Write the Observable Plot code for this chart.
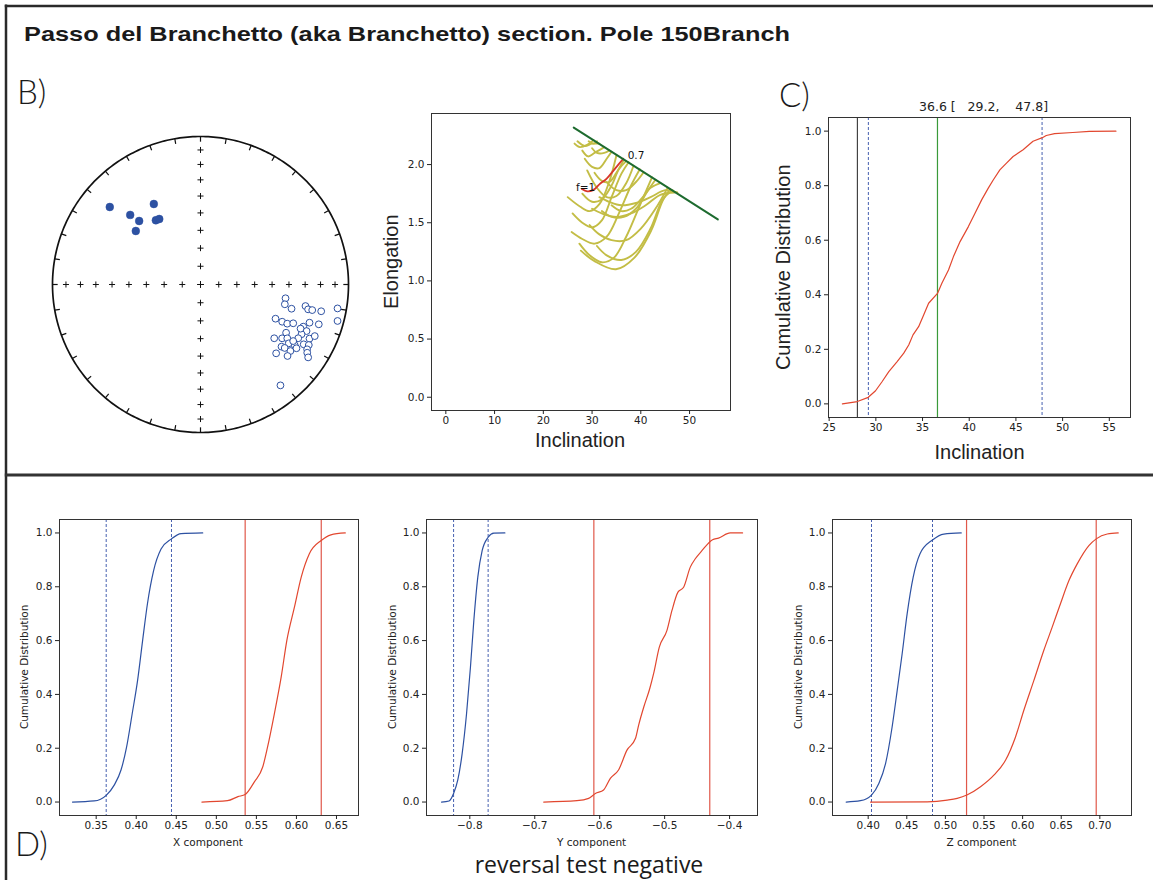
<!DOCTYPE html>
<html><head><meta charset="utf-8">
<script src="https://cdn.jsdelivr.net/npm/d3@7"></script>
<script src="https://cdn.jsdelivr.net/npm/@observablehq/plot@0.6"></script>
<style>
html,body{margin:0;padding:0;background:#fff;}
#fig{position:relative;width:1153px;height:880px;overflow:hidden;background:#fff;}
#fig svg{position:absolute;}
</style></head><body><div id="fig"></div>
<script>
// ---------------- DATA ----------------
const figTitle = "Passo del Branchetto (aka Branchetto) section. Pole 150Branch";
const panelLetters = ["B)", "C)", "D)"];
const caption = "reversal test negative";

// Stereonet: normal (lower hemisphere, filled) directions
const normalDec = [310.5, 329.9, 314.7, 316.0, 325.2, 327.8, 309.6];
const normalInc = [20.5, 37.2, 33.6, 40.1, 46.1, 46.6, 42.7];
// reversed (upper hemisphere, open) directions
const reversedDec = [99.2, 103.2, 104.9, 101.6, 103.0, 102.9, 102.5, 99.9, 104.9, 114.5, 114.5, 114.3, 112.7, 112.3, 109.3, 108.6, 113.7, 116.2, 119.4, 126.1, 123.4, 121.8, 118.8, 116.4, 114.3, 123.7, 122.8, 120.1, 119.2, 127.5, 127.0, 126.5, 123.6, 121.3, 132.3, 129.4, 122.6, 124.1, 141.6, 121.4, 113.8];
const reversedInc = [-41.4, -41.1, -36.5, -28.4, -26.3, -23.6, -17.6, -6.7, -4.7, -43.6, -39.2, -35.9, -32.6, -25.9, -23.0, -16.8, -22.8, -24.9, -34.0, -38.3, -34.3, -31.6, -25.6, -18.9, -16.4, -29.1, -25.2, -20.5, -17.3, -31.6, -29.5, -25.4, -23.2, -16.8, -31.5, -24.9, -15.5, -13.2, -14.1, -27.5, -27.0];
const gridInc = [10, 20, 30, 40, 50, 60, 70, 80, 90];
const gridDec = [0, 90, 180, 270];

// Elongation / inclination (bootstrap E/I curves: [inclination, elongation])
const eiCurves = [
  [[26.4,2.18],[27.5,2.15],[29.0,2.17],[30.3,2.21]],
  [[27.0,2.20],[28.5,2.16],[30.0,2.18],[31.5,2.18]],
  [[28.0,2.12],[29.2,2.07],[30.5,2.10],[32.5,2.15]],
  [[29.3,2.20],[30.3,2.18],[31.0,2.20]],
  [[30.0,2.14],[31.0,2.10],[32.5,2.10],[33.5,2.12]],
  [[28.5,2.05],[30.0,1.98],[31.5,1.97],[33.0,2.05],[34.0,2.11]],
  [[30.5,1.93],[32.0,1.86],[33.5,1.85],[35.0,1.93],[36.5,2.04]],
  [[28.0,1.75],[30.0,1.68],[32.0,1.70],[34.0,1.82],[35.5,1.96],[37.0,2.03]],
  [[29.0,1.95],[31.0,1.80],[33.0,1.72],[35.0,1.73],[37.0,1.84],[38.5,1.99]],
  [[25.0,1.72],[27.5,1.64],[29.5,1.60],[31.5,1.66],[33.5,1.85],[35.0,2.08]],
  [[26.0,1.58],[28.0,1.50],[30.0,1.46],[32.0,1.52],[34.0,1.72],[36.0,1.92],[37.5,2.02]],
  [[25.8,1.42],[28.0,1.36],[30.5,1.32],[33.0,1.38],[35.5,1.58],[38.0,1.82],[39.8,1.96]],
  [[33.0,1.85],[35.0,1.78],[37.0,1.78],[39.0,1.85],[40.5,1.93]],
  [[27.4,1.32],[29.5,1.22],[32.0,1.16],[34.5,1.20],[37.0,1.38],[39.5,1.62],[42.3,1.89]],
  [[27.7,1.26],[30.5,1.17],[34.9,1.10],[38.7,1.20],[42.1,1.43],[44.5,1.69],[46.0,1.79]],
  [[29.5,1.48],[31.5,1.40],[34.0,1.35],[37.0,1.35],[40.0,1.45],[43.0,1.62],[45.5,1.80]],
  [[31.0,1.30],[33.0,1.22],[36.0,1.18],[39.0,1.25],[42.0,1.45],[44.5,1.70],[46.5,1.78]],
  [[30.0,1.62],[32.0,1.58],[35.0,1.55],[38.0,1.58],[41.0,1.65],[44.0,1.74],[47.0,1.76]],
  [[32.0,1.60],[34.0,1.55],[36.5,1.55],[39.0,1.62],[41.5,1.78],[43.0,1.87]],
  [[31.5,1.72],[33.5,1.68],[36.0,1.65],[39.0,1.67],[42.0,1.72],[45.0,1.78],[47.5,1.76]],
  [[34.0,1.65],[36.0,1.60],[38.0,1.62],[40.0,1.70],[42.0,1.80],[44.0,1.84]]
];
const eiDataCurve = [[27.9,1.79],[29.0,1.77],[30.2,1.78],[31.5,1.83],[33.0,1.88],[34.8,1.97],[36.4,2.05]];
const tk03Line = [[26.24,2.318],[55.8,1.529]];
const eiLabels = [{x: 26.7, y: 1.80, t: "f=1"}, {x: 37.3, y: 2.08, t: "0.7"}];

// Panel C: cumulative distribution of corrected inclination
const cIncl = [26.42, 28.02, 29.19, 29.97, 30.68, 31.39, 32.28, 32.99, 33.52, 33.98, 34.58, 35.12, 35.65, 36.6, 37.07, 37.78, 38.31, 39.02, 39.91, 40.62, 41.33, 42.04, 42.57, 43.28, 43.99, 44.70, 45.77, 46.83, 47.83, 48.25, 49.14, 51.09, 52.87, 55.71];
const cCdf = [0, 0.0085, 0.024, 0.048, 0.082, 0.118, 0.155, 0.186, 0.216, 0.253, 0.283, 0.326, 0.369, 0.405, 0.442, 0.491, 0.54, 0.595, 0.65, 0.699, 0.748, 0.791, 0.821, 0.858, 0.883, 0.907, 0.932, 0.963, 0.976, 0.984, 0.991, 0.995, 0.999, 1.0];
const cOriginalInc = 28.02;
const cBest = 36.6;
const cBounds = [29.2, 47.8];
const cTitle = "36.6 [\u00a0\u00a0\u00a029.2,\u00a0\u00a0\u00a0\u00a047.8]";

// Panel D: reversal test (X, Y, Z components)
const xNormVal = [0.3204, 0.3475, 0.3625, 0.3725, 0.381, 0.388, 0.395, 0.4017, 0.408, 0.414, 0.4217, 0.431, 0.444, 0.456, 0.483];
const xNormCdf = [0, 0.004, 0.025, 0.063, 0.119, 0.205, 0.329, 0.452, 0.601, 0.737, 0.86, 0.94, 0.978, 0.9975, 1.0];
const xRevVal = [0.482, 0.514, 0.527, 0.536, 0.5475, 0.558, 0.564, 0.5725, 0.581, 0.588, 0.5975, 0.606, 0.616, 0.631, 0.643, 0.661];
const xRevCdf = [0, 0.005, 0.02, 0.028, 0.075, 0.131, 0.205, 0.329, 0.465, 0.60, 0.724, 0.836, 0.922, 0.972, 0.993, 1.0];
const xNormBounds = [0.3625, 0.444];
const xRevBounds = [0.536, 0.631];

const yNormVal = [-0.8436, -0.832, -0.825, -0.8185, -0.8118, -0.805, -0.799, -0.7938, -0.7877, -0.781, -0.7718, -0.763, -0.746];
const yNormCdf = [0, 0.004, 0.032, 0.082, 0.18, 0.329, 0.502, 0.675, 0.836, 0.934, 0.984, 0.999, 1.0];
const yRevVal = [-0.6862, -0.635, -0.617, -0.6067, -0.594, -0.5836, -0.571, -0.558, -0.545, -0.540, -0.532, -0.523, -0.517, -0.5082, -0.4964, -0.4887, -0.4795, -0.4708, -0.4605, -0.4528, -0.4426, -0.4262, -0.417, -0.399, -0.380];
const yRevCdf = [0, 0.005, 0.0136, 0.032, 0.045, 0.088, 0.119, 0.193, 0.236, 0.286, 0.354, 0.421, 0.477, 0.576, 0.638, 0.712, 0.78, 0.798, 0.873, 0.904, 0.934, 0.975, 0.981, 1.0, 1.0];
const yNormBounds = [-0.825, -0.7718];
const yRevBounds = [-0.609, -0.4305];

const zNormVal = [0.3715, 0.390, 0.4043, 0.4138, 0.4225, 0.431, 0.4376, 0.444, 0.4505, 0.4583, 0.467, 0.4833, 0.498, 0.5205];
const zNormCdf = [0, 0.005, 0.026, 0.069, 0.143, 0.279, 0.415, 0.551, 0.70, 0.836, 0.922, 0.974, 0.996, 1.0];
const zRevVal = [0.403, 0.4764, 0.5023, 0.5153, 0.5278, 0.5455, 0.5628, 0.578, 0.5908, 0.6016, 0.6146, 0.6275, 0.6383, 0.649, 0.660, 0.6707, 0.6858, 0.6953, 0.7096, 0.7238];
const zRevCdf = [0, 0.001, 0.007, 0.0136, 0.026, 0.057, 0.10, 0.156, 0.242, 0.341, 0.452, 0.564, 0.650, 0.737, 0.823, 0.885, 0.953, 0.978, 0.996, 1.0];
const zNormBounds = [0.4043, 0.4833];
const zRevBounds = [0.5274, 0.6953];

const dTicksX = [0.35, 0.40, 0.45, 0.50, 0.55, 0.60, 0.65];
const dTicksY = [-0.8, -0.7, -0.6, -0.5, -0.4];
const dTicksZ = [0.40, 0.45, 0.50, 0.55, 0.60, 0.65, 0.70];
const cdfTicks = [0, 0.2, 0.4, 0.6, 0.8, 1.0];
const dLabels = ["X component", "Y component", "Z component"];
const cdfLabel = "Cumulative Distribution";

// ---------------- STYLE ----------------
const BLUE = "#2d51a2", RED = "#e2472f", REDRULE = "#e0584a", DASHBLUE = "#4660b0";
const tickFont = 10.5;
const fig = document.getElementById("fig");
const labels = []; // overlay axis labels {x, y, t, size, rotate, font}

function place(svg, left, top) {
  svg.style.position = "absolute";
  svg.style.left = left + "px";
  svg.style.top = top + "px";
  fig.appendChild(svg);
}

function axesPlot({box, m, x, y, marks}) {
  const [x0, x1, y0, y1] = box;
  const svg = Plot.plot({
    width: Math.round(m[3] + (x1 - x0) + m[1]),
    height: Math.round(m[0] + (y1 - y0) + m[2]),
    marginTop: m[0], marginRight: m[1], marginBottom: m[2], marginLeft: m[3],
    x: {...x, label: null}, y: {...y, label: null},
    style: {fontFamily: "DejaVu Sans", fontSize: "10.5px", background: "none", overflow: "visible", color: "#222"},
    marks
  });
  place(svg, x0 - m[3], y0 - m[0]);
}
const toRows = (xs, ys) => xs.map((v, i) => ({x: v, y: ys[i]}));

// ---------------- STEREONET ----------------
{
  const proj = (dec, inc) => {
    const r = Math.SQRT2 * Math.sin((90 - Math.abs(inc)) / 2 * Math.PI / 180);
    const a = dec * Math.PI / 180;
    return {x: r * Math.sin(a), y: r * Math.cos(a)};
  };
  const rim = d3.range(0, 361, 1).map(a => proj(a, 0));
  const rimTicks = d3.range(0, 360, 10).map(a => {
    const p = proj(a, 0);
    return {x1: p.x, y1: p.y, x2: p.x * 0.965, y2: p.y * 0.965};
  });
  const crosses = gridDec.flatMap(d => gridInc.map(i => proj(d, i)));
  const normals = normalDec.map((d, i) => proj(d, normalInc[i]));
  const reversed = reversedDec.map((d, i) => proj(d, reversedInc[i]));
  const svg = Plot.plot({
    width: 320, height: 320, margin: 12,
    x: {domain: [-1, 1], axis: null}, y: {domain: [-1, 1], axis: null},
    style: {background: "none", overflow: "visible"},
    marks: [
      Plot.line(rim, {x: "x", y: "y", stroke: "#111", strokeWidth: 1.7}),
      Plot.link(rimTicks, {x1: "x1", y1: "y1", x2: "x2", y2: "y2", stroke: "#111", strokeWidth: 1.2}),
      Plot.dot(crosses, {x: "x", y: "y", symbol: "plus", r: 2.1, stroke: "#111", strokeWidth: 1}),
      Plot.dot(normals, {x: "x", y: "y", r: 3.9, fill: BLUE, stroke: BLUE, strokeWidth: 0.5}),
      Plot.dot(reversed, {x: "x", y: "y", r: 3.4, fill: "white", stroke: BLUE, strokeWidth: 1})
    ]
  });
  place(svg, 40, 123.5);
}

// ---------------- ELONGATION / INCLINATION ----------------
{
  const box = [430.7, 729.3, 113.3, 410];
  const curveRows = eiCurves.flatMap((c, k) => c.map(([x, y]) => ({x, y, k})));
  axesPlot({
    box,
    m: [10, 10, 50, 60],
    x: {domain: [-2.94, 58.4]},
    y: {domain: [-0.114, 2.439]},
    marks: [
      Plot.line(curveRows, {x: "x", y: "y", z: "k", stroke: "#c3bd45", strokeWidth: 1.9, curve: "catmull-rom"}),
      Plot.line(eiDataCurve, {x: d => d[0], y: d => d[1], stroke: "#d8362a", strokeWidth: 1.8, curve: "catmull-rom"}),
      Plot.line(tk03Line, {x: d => d[0], y: d => d[1], stroke: "#1d6b2f", strokeWidth: 2}),
      Plot.text(eiLabels, {x: "x", y: "y", text: "t", textAnchor: "start", fontSize: 10.5, fill: "#111"}),
      Plot.frame({stroke: "#333"}),
      Plot.axisX({ticks: [0, 10, 20, 30, 40, 50], tickFormat: d3.format("d"), tickSize: 4, tickPadding: 2, fontSize: tickFont, label: null}),
      Plot.axisY({ticks: [0, 0.5, 1.0, 1.5, 2.0], tickFormat: d3.format(".1f"), tickSize: 4, tickPadding: 3, fontSize: tickFont, label: null})
    ]
  });
  labels.push({x: 391, y: (box[2] + box[3]) / 2, t: "Elongation", size: 20, rotate: true, font: "'Liberation Sans', Arial, sans-serif"});
  labels.push({x: (box[0] + box[1]) / 2, y: 439.5, t: "Inclination", size: 20, font: "'Liberation Sans', Arial, sans-serif"});
}

// ---------------- PANEL C ----------------
{
  const box = [828.3, 1130.7, 117.3, 417.3];
  axesPlot({
    box,
    m: [30, 15, 50, 60],
    x: {domain: [24.93, 57.27]},
    y: {domain: [-0.05, 1.05]},
    marks: [
      Plot.ruleX([cOriginalInc], {stroke: "#222", strokeWidth: 1}),
      Plot.ruleX(cBounds, {stroke: DASHBLUE, strokeWidth: 1, strokeDasharray: "3,2"}),
      Plot.ruleX([cBest], {stroke: "#3a9a3a", strokeWidth: 1.2}),
      Plot.line(toRows(cIncl, cCdf), {x: "x", y: "y", stroke: RED, strokeWidth: 1.2}),
      Plot.frame({stroke: "#333"}),
      Plot.axisX({ticks: [25, 30, 35, 40, 45, 50, 55], tickFormat: d3.format("d"), tickSize: 4, tickPadding: 2, fontSize: tickFont, label: null}),
      Plot.axisY({ticks: cdfTicks, tickFormat: d3.format(".1f"), tickSize: 4, tickPadding: 3, fontSize: tickFont, label: null})
    ]
  });
  labels.push({x: (box[0] + box[1]) / 2 + 4, y: 106.7, t: cTitle, size: 12.5, font: "'DejaVu Sans', sans-serif"});
  labels.push({x: 782.7, y: (box[2] + box[3]) / 2, t: cdfLabel, size: 20, rotate: true, font: "'Liberation Sans', Arial, sans-serif"});
  labels.push({x: (box[0] + box[1]) / 2, y: 451.7, t: "Inclination", size: 20, font: "'Liberation Sans', Arial, sans-serif"});
}

// ---------------- PANEL D ----------------
function dPanel({box, domain, ticks, fmt, nV, nC, rV, rC, nB, rB, label, ylabX}) {
  axesPlot({
    box, m: [10, 10, 45, 50],
    x: {domain}, y: {domain: [-0.05, 1.05]},
    marks: [
      Plot.ruleX(nB, {stroke: DASHBLUE, strokeWidth: 1, strokeDasharray: "3,2"}),
      Plot.ruleX(rB, {stroke: REDRULE, strokeWidth: 1.2}),
      Plot.line(toRows(nV, nC), {x: "x", y: "y", stroke: BLUE, strokeWidth: 1.2, curve: "monotone-x"}),
      Plot.line(toRows(rV, rC), {x: "x", y: "y", stroke: RED, strokeWidth: 1.2, curve: "monotone-x"}),
      Plot.frame({stroke: "#333"}),
      Plot.axisX({ticks, tickFormat: d3.format(fmt), tickSize: 4, tickPadding: 2, fontSize: tickFont, label: null}),
      Plot.axisY({ticks: cdfTicks, tickFormat: d3.format(".1f"), tickSize: 4, tickPadding: 3, fontSize: tickFont, label: null})
    ]
  });
  labels.push({x: ylabX, y: (box[2] + box[3]) / 2, t: cdfLabel, size: 10.5, rotate: true, font: "'DejaVu Sans', sans-serif"});
  labels.push({x: (box[0] + box[1]) / 2, y: 841.7, t: label, size: 10.5, font: "'DejaVu Sans', sans-serif"});
}
dPanel({box: [58.7, 357.3, 518.7, 815], domain: [0.3042, 0.6775], ticks: dTicksX, fmt: ".2f",
  nV: xNormVal, nC: xNormCdf, rV: xRevVal, rC: xRevCdf, nB: xNormBounds, rB: xRevBounds, label: dLabels[0], ylabX: 24});
dPanel({box: [426, 757.3, 518.7, 815], domain: [-0.8667, -0.357], ticks: dTicksY, fmt: ".1f",
  nV: yNormVal, nC: yNormCdf, rV: yRevVal, rC: yRevCdf, nB: yNormBounds, rB: yRevBounds, label: dLabels[1], ylabX: 392.3});
dPanel({box: [832, 1131, 518.7, 815], domain: [0.3538, 0.741], ticks: dTicksZ, fmt: ".2f",
  nV: zNormVal, nC: zNormCdf, rV: zRevVal, rC: zRevCdf, nB: zNormBounds, rB: zRevBounds, label: dLabels[2], ylabX: 797.7});

// ---------------- FRAME + TEXT OVERLAY ----------------
{
  const ov = d3.select(fig).append("svg").attr("width", 1153).attr("height", 880).style("left", "0px").style("top", "0px").style("pointer-events", "none");
  ov.append("line").attr("x1", 6).attr("x2", 6).attr("y1", 4.5).attr("y2", 880).attr("stroke", "#2a2a2a").attr("stroke-width", 2.5);
  ov.append("line").attr("x1", 4.8).attr("x2", 1153).attr("y1", 6).attr("y2", 6).attr("stroke", "#2a2a2a").attr("stroke-width", 2.5);
  ov.append("line").attr("x1", 4.8).attr("x2", 1153).attr("y1", 475).attr("y2", 475).attr("stroke", "#333").attr("stroke-width", 3);
  ov.append("text").attr("x", 24).attr("y", 41).attr("textLength", 766).attr("lengthAdjust", "spacingAndGlyphs")
    .style("font", "bold 21px 'Liberation Sans', Arial, sans-serif").attr("fill", "#1a1a1a").text(figTitle);
  const big = "300 33px Lato, 'Liberation Sans', sans-serif";
  ov.append("text").attr("x", 17).attr("y", 104).style("font", big).attr("fill", "#1a1a1a").text(panelLetters[0]);
  ov.append("text").attr("x", 779).attr("y", 107).style("font", big).attr("fill", "#1a1a1a").text(panelLetters[1]);
  ov.append("text").attr("x", 15).attr("y", 856).style("font", big).attr("fill", "#1a1a1a").text(panelLetters[2]);
  ov.append("text").attr("x", 589).attr("y", 873).attr("text-anchor", "middle").style("font", "23px 'Open Sans', 'Liberation Sans', sans-serif").attr("fill", "#1a1a1a").text(caption);
  for (const l of labels) {
    ov.append("text")
      .attr("transform", `translate(${l.x},${l.y})` + (l.rotate ? " rotate(-90)" : ""))
      .attr("text-anchor", "middle").attr("dominant-baseline", "central")
      .style("font", `${l.size}px ${l.font}`).attr("fill", "#222").text(l.t);
  }
}
</script></body></html>
